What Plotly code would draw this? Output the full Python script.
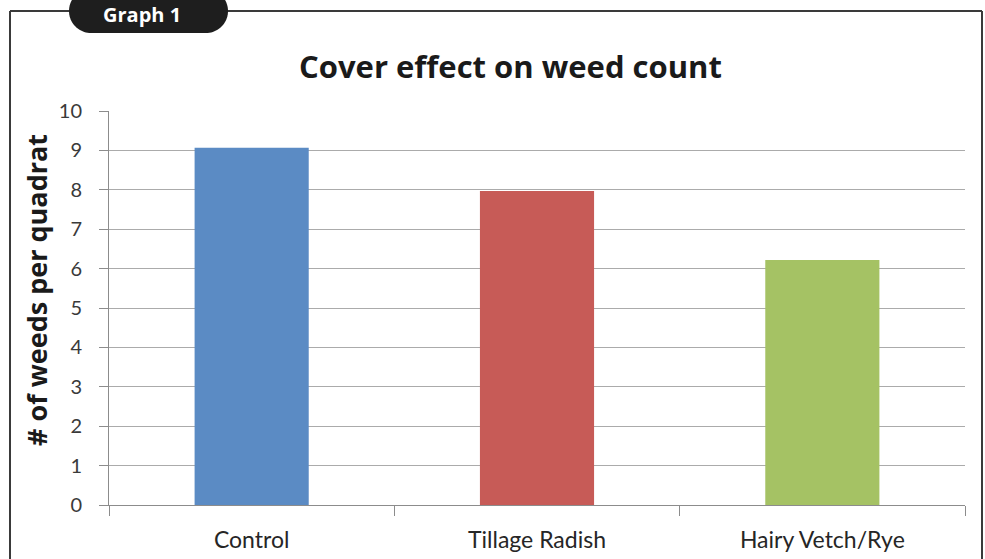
import math
import plotly.graph_objects as go

# Data
categories = ["Control", "Tillage Radish", "Hairy Vetch/Rye"]
weed_counts = [9.07, 7.97, 6.22]
bar_colors = ["#5B8BC4", "#C75B57", "#A5C264"]
y_ticks = list(range(0, 11))

W, H = 985, 559
L, R, T, B = 109, 20, 111, 54
PW, PH = W - L - R, H - T - B


def px(x):
    return (x - L) / PW


def py(y):
    return (H - B - y) / PH


fig = go.Figure(
    go.Bar(
        x=categories,
        y=weed_counts,
        marker=dict(color=bar_colors, line=dict(width=0)),
        width=0.40,
    )
)

# Outer frame around the chart (open at the bottom)
frame_color = "#3a3a3a"
shapes = [
    dict(type="line", xref="paper", yref="paper",
         x0=px(10), y0=py(11), x1=px(10), y1=py(H + 5),
         line=dict(color=frame_color, width=2)),
    dict(type="line", xref="paper", yref="paper",
         x0=px(982), y0=py(11), x1=px(982), y1=py(H + 5),
         line=dict(color=frame_color, width=2)),
    dict(type="line", xref="paper", yref="paper",
         x0=px(10), y0=py(11), x1=px(982), y1=py(11),
         line=dict(color=frame_color, width=2)),
]

# Rounded "Graph 1" tab
rad, cy, cxl, cxr = 22, 11, 91, 206
pts = []
for i in range(0, 41):
    a = math.pi / 2 + math.pi * i / 40
    pts.append((cxl + rad * math.cos(a), cy - rad * math.sin(a)))
for i in range(0, 41):
    a = -math.pi / 2 + math.pi * i / 40
    pts.append((cxr + rad * math.cos(a), cy - rad * math.sin(a)))
path = "M " + " L ".join(f"{px(x):.5f},{py(y):.5f}" for x, y in pts) + " Z"
shapes.append(dict(type="path", xref="paper", yref="paper", path=path,
                   fillcolor="#1e1e1e", line=dict(width=0), layer="above"))


def label(text, x, y, size, color, angle=0):
    return dict(text=text, xref="paper", yref="paper",
                x=px(x), y=py(y), xanchor="center", yanchor="middle",
                showarrow=False, textangle=angle,
                font=dict(family="Open Sans", size=size, color=color))


fig.update_layout(
    width=W, height=H,
    margin=dict(l=L, r=R, t=T, b=B),
    paper_bgcolor="white",
    plot_bgcolor="white",
    showlegend=False,
    shapes=shapes,
    annotations=[
        label("<b>Graph 1</b>", 142, 15, 20, "white"),
        label("<b>Cover effect on weed count</b>", 510, 66, 31, "#1a1a1a"),
        label("<b># of weeds per quadrat</b>", 36, 290, 27, "#1a1a1a", -90),
    ],
    xaxis=dict(
        type="category",
        automargin=False,
        showgrid=False,
        showline=True, linecolor="#8c8c8c", linewidth=1,
        ticks="outside", ticklen=10, tickcolor="#8c8c8c", tickwidth=1,
        tickson="boundaries",
        tickfont=dict(family="Lato", size=23, color="#262626"),
        ticklabelstandoff=14,
    ),
    yaxis=dict(
        range=[0, 10],
        automargin=False,
        tickvals=y_ticks,
        showgrid=True, gridcolor="#ababab", gridwidth=1,
        showline=True, linecolor="#8c8c8c", linewidth=1,
        ticks="outside", ticklen=9, tickcolor="#8c8c8c", tickwidth=1,
        tickfont=dict(family="Lato", size=20, color="#3a3a3a"),
        ticklabelstandoff=13,
        zeroline=False,
    ),
)

fig.write_html("out.html")
